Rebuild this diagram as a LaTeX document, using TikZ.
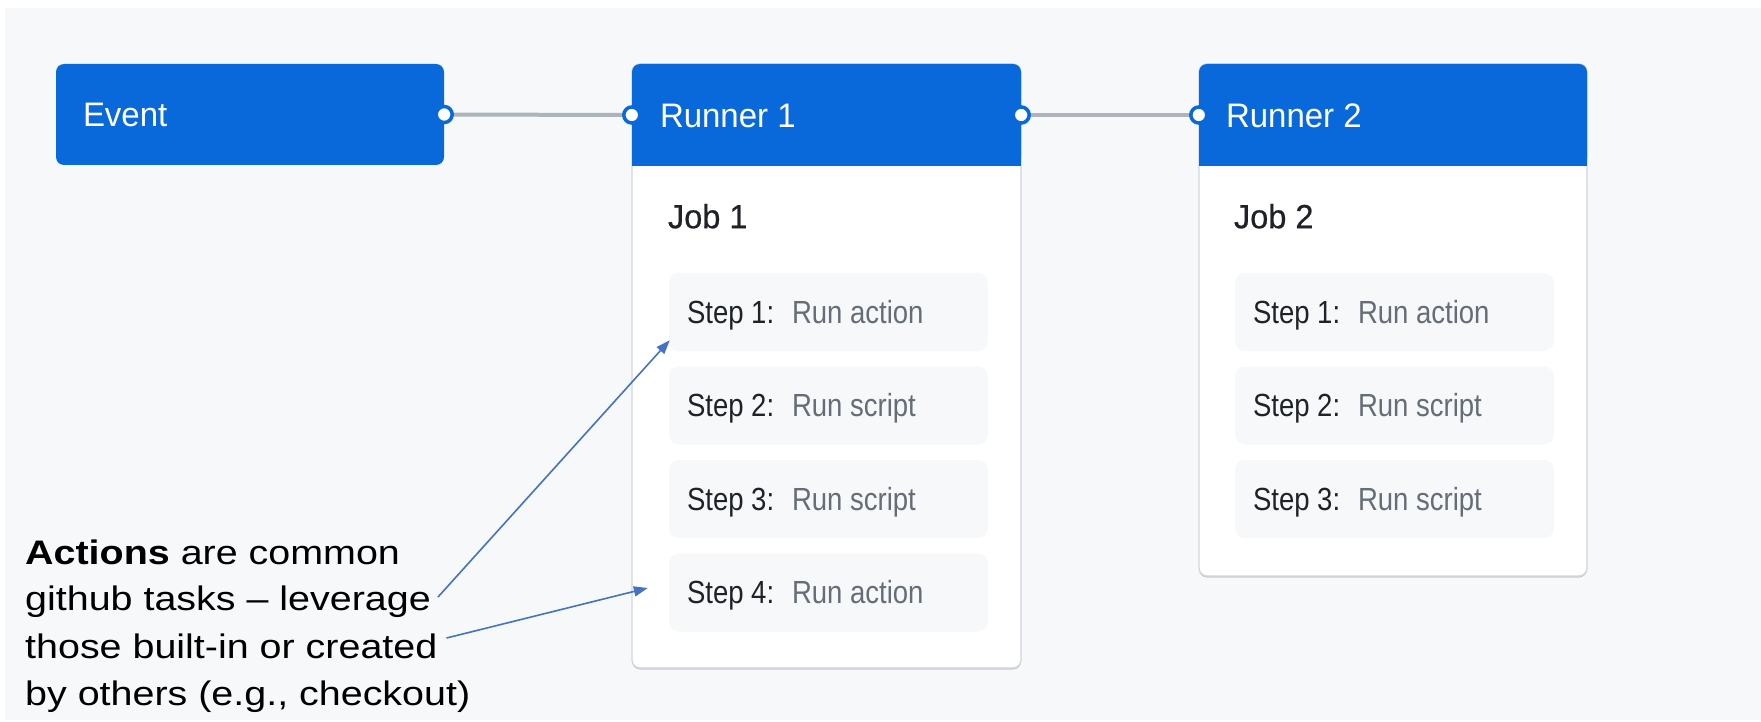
\documentclass[tikz,border=0pt]{standalone}
\usepackage{fontspec}
\setmainfont{Liberation Sans}
\newfontfamily\hdfont[FakeStretch=0.97]{Liberation Sans}
\newfontfamily\jobfont[FakeStretch=0.97,FakeBold=0.6]{Liberation Sans}
\newfontfamily\stepfont[FakeStretch=0.86]{Liberation Sans}
\newfontfamily\notefont[FakeStretch=1.16]{Liberation Sans}
\usetikzlibrary{arrows.meta}

\definecolor{ghblue}{HTML}{0969DA}
\definecolor{canvas}{HTML}{F6F8FA}
\definecolor{cardline}{HTML}{D0D7DE}
\definecolor{cardshade}{HTML}{C4CAD0}
\definecolor{stepfill}{HTML}{F6F8FA}
\definecolor{wire}{HTML}{AEB4BA}
\definecolor{ink}{HTML}{1F2328}
\definecolor{muted}{HTML}{656D76}
\definecolor{callout}{HTML}{4472C4}

\tikzset{
  card/.style={rectangle, rounded corners=8pt, fill=white, draw=cardline,
    line width=1.3pt, inner sep=0pt},
  cardshadow/.style={rectangle, rounded corners=8pt, fill=cardshade, inner sep=0pt},
  header/.style={rectangle, rounded corners=8pt, fill=ghblue, inner sep=0pt},
  stepbox/.style={rectangle, rounded corners=10pt, fill=stepfill, inner sep=0pt,
    minimum width=319pt, minimum height=78pt},
  hdtext/.style={anchor=base west, inner sep=0pt, text=white,
    font=\hdfont\fontsize{34}{40}\selectfont},
  jobtext/.style={anchor=base west, inner sep=0pt, text=ink,
    font=\jobfont\fontsize{33.5}{40}\selectfont},
  steplabel/.style={anchor=base west, inner sep=0pt, text=ink,
    font=\stepfont\fontsize{32}{38}\selectfont},
  stepvalue/.style={anchor=base west, inner sep=0pt, text=muted,
    font=\stepfont\fontsize{32}{38}\selectfont},
  notetext/.style={anchor=base west, inner sep=0pt, text=black,
    font=\notefont\fontsize{34}{40}\selectfont},
  wirestyle/.style={draw=wire, line width=4pt},
  port/.style={circle, fill=white, draw=ghblue, line width=3.5pt,
    minimum size=16pt, inner sep=0pt},
  pointer/.style={draw=callout, line width=1.6pt,
    -{Triangle[length=14pt,width=10pt]}},
}

\begin{document}
\begin{tikzpicture}[x=1pt,y=-1pt]
\useasboundingbox (0,0) rectangle (1761,722);

% canvas
\fill[canvas] (5,8) rectangle (1761,720);

% event block
\node[header, minimum width=388pt, minimum height=101pt] (ev) at (250,114.5) {};
\node[hdtext] (evt) at ([xshift=27pt,yshift=-12.5pt]ev.west) {Event};

% runner 1 card
\node[cardshadow, minimum width=389pt, minimum height=604pt] (r1s) at (826.5,367.5) {};
\node[card, minimum width=389pt, minimum height=604pt] (r1b) at (826.5,366) {};
\node[header, minimum width=389pt, minimum height=102pt] (r1h) at (826.5,115) {};
\fill[ghblue] ([yshift=-20pt]r1h.north west) rectangle (r1h.south east);
\node[hdtext] (r1t) at ([xshift=28pt,yshift=-13pt]r1h.west) {Runner 1};
\node[jobtext] (j1) at ([xshift=36pt,yshift=-62pt]r1h.south west) {Job 1};

% runner 2 card
\node[cardshadow, minimum width=388pt, minimum height=512pt] (r2s) at (1393,321.5) {};
\node[card, minimum width=388pt, minimum height=512pt] (r2b) at (1393,320) {};
\node[header, minimum width=388pt, minimum height=102pt] (r2h) at (1393,115) {};
\fill[ghblue] ([yshift=-20pt]r2h.north west) rectangle (r2h.south east);
\node[hdtext] (r2t) at ([xshift=27pt,yshift=-13pt]r2h.west) {Runner 2};
\node[jobtext] (j2) at ([xshift=35pt,yshift=-62pt]r2h.south west) {Job 2};

% steps of job 1
\node[stepbox] (s11) at (828.5,312) {};
\node[stepbox] (s12) at (828.5,405.5) {};
\node[stepbox] (s13) at (828.5,499) {};
\node[stepbox] (s14) at (828.5,592.5) {};
% steps of job 2
\node[stepbox] (s21) at (1394.5,312) {};
\node[stepbox] (s22) at (1394.5,405.5) {};
\node[stepbox] (s23) at (1394.5,499) {};

\foreach \s/\n/\v in {s11/1/Run action, s12/2/Run script, s13/3/Run script,
                      s14/4/Run action, s21/1/Run action, s22/2/Run script,
                      s23/3/Run script}{
  \node[steplabel] (\s l) at ([xshift=18pt,yshift=-11pt]\s.west) {Step \n:};
  \node[stepvalue] (\s v) at ([xshift=123pt,yshift=-11pt]\s.west) {\v};
}

% connectors between blocks
\draw[wirestyle] (ev.east) -- (r1h.west);
\draw[wirestyle] (r1h.east) -- (r2h.west);
\node[port] (p1) at (ev.east) {};
\node[port] (p2) at (r1h.west) {};
\node[port] (p3) at (r1h.east) {};
\node[port] (p4) at (r2h.west) {};

% callout text
\node[notetext] (n1) at (25,564) {\textbf{Actions} are common};
\node[notetext] (n2) at (25,610) {github tasks – leverage};
\node[notetext] (n3) at (25,658) {those built-in or created};
\node[notetext] (n4) at (25,705) {by others (e.g., checkout)};

% callout pointers
\coordinate (c1) at ([xshift=7pt,yshift=13pt]n2.base east);
\coordinate (c2) at ([xshift=9pt,yshift=20pt]n3.base east);
\coordinate (t1) at ([xshift=1pt,yshift=11pt]s11.south west);
\coordinate (t2) at ([xshift=-21pt,yshift=4.5pt]s14.west);
\draw[pointer] (c1) -- (t1);
\draw[pointer] (c2) -- (t2);
\end{tikzpicture}
\end{document}
